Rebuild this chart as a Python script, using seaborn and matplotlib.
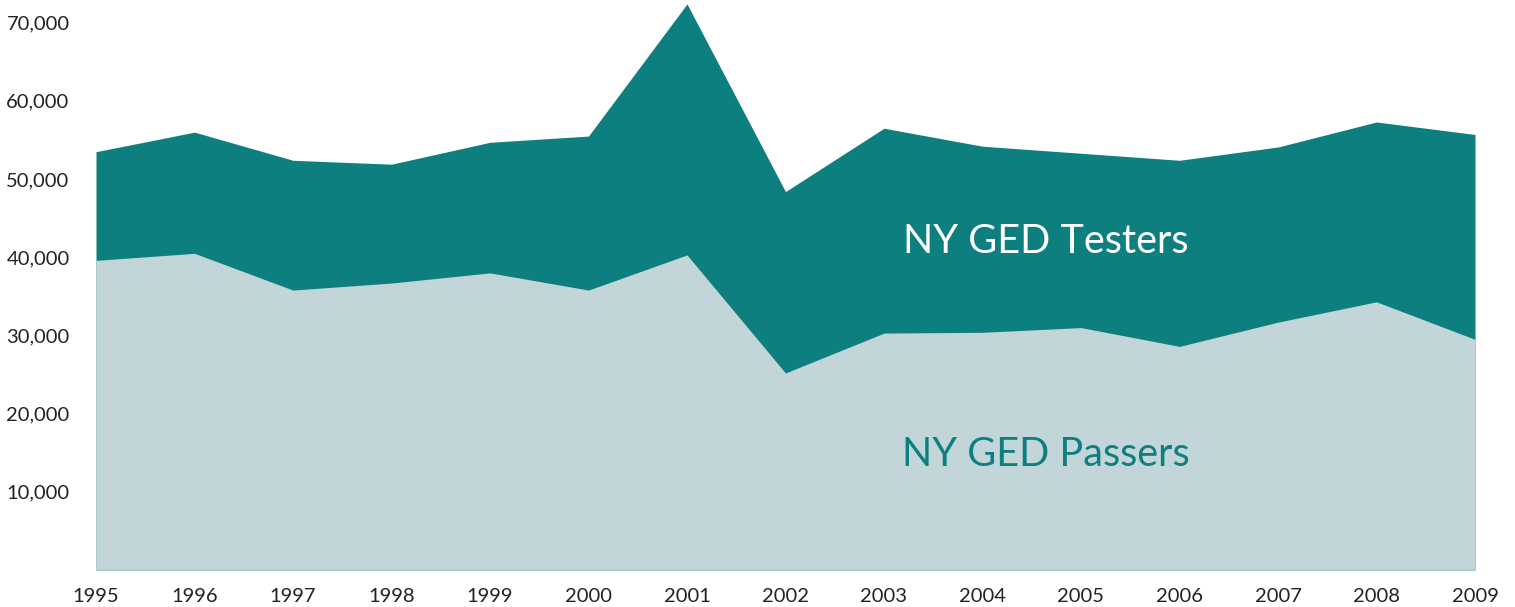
import matplotlib
matplotlib.use("Agg")
import matplotlib.pyplot as plt
import seaborn as sns
import pandas as pd
from matplotlib.ticker import FuncFormatter

years = [1995, 1996, 1997, 1998, 1999, 2000, 2001, 2002, 2003, 2004, 2005, 2006, 2007, 2008, 2009]
testers = [53500, 56000, 52400, 51900, 54700, 55500, 72400, 48400, 56500, 54200, 53300, 52400, 54100, 57300, 55700]
passers = [39600, 40500, 35800, 36700, 38000, 35800, 40300, 25200, 30300, 30400, 31000, 28600, 31700, 34300, 29500]
y_ticks = [10000, 20000, 30000, 40000, 50000, 60000, 70000]

sns.set_theme(style="white")
plt.rcParams['font.family'] = ['Lato', 'DejaVu Sans']

df = pd.DataFrame({"year": years, "testers": testers, "passers": passers})

fig = plt.figure(figsize=(15.15, 6.07), dpi=100)
ax = fig.add_axes([96/1515, 1 - 570/607, (1475 - 96)/1515, 570/607])

teal = "#0e7f7f"
light = "#c2d5d8"

sns.lineplot(data=df, x="year", y="testers", ax=ax, color=teal, linewidth=0)
sns.lineplot(data=df, x="year", y="passers", ax=ax, color=light, linewidth=0)
ax.fill_between(df["year"], 0, df["testers"], color=teal, linewidth=0)
ax.fill_between(df["year"], 0, df["passers"], color=light, linewidth=0)
ax.plot([years[0], years[-1]], [0, 0], color="#a8d0d0", linewidth=1)

ax.set_xlim(years[0], years[-1])
ax.set_ylim(0, 72900)
ax.set_xticks(years)
ax.set_xticklabels([str(y) for y in years])
ax.set_yticks(y_ticks)
ax.yaxis.set_major_formatter(FuncFormatter(lambda v, p: f"{int(v):,}"))
ax.tick_params(axis="both", length=0, labelsize=14.5, colors="#222222")
ax.tick_params(axis="y", pad=19)
ax.tick_params(axis="x", pad=13)
ax.set_xlabel("")
ax.set_ylabel("")
for s in ax.spines.values():
    s.set_visible(False)

ax.text(2004.64, 42000, "NY GED Testers", color="white", fontsize=28.5, ha="center", va="center")
ax.text(2004.64, 14800, "NY GED Passers", color=teal, fontsize=28.5, ha="center", va="center")

fig.savefig("out.png", dpi=100)
